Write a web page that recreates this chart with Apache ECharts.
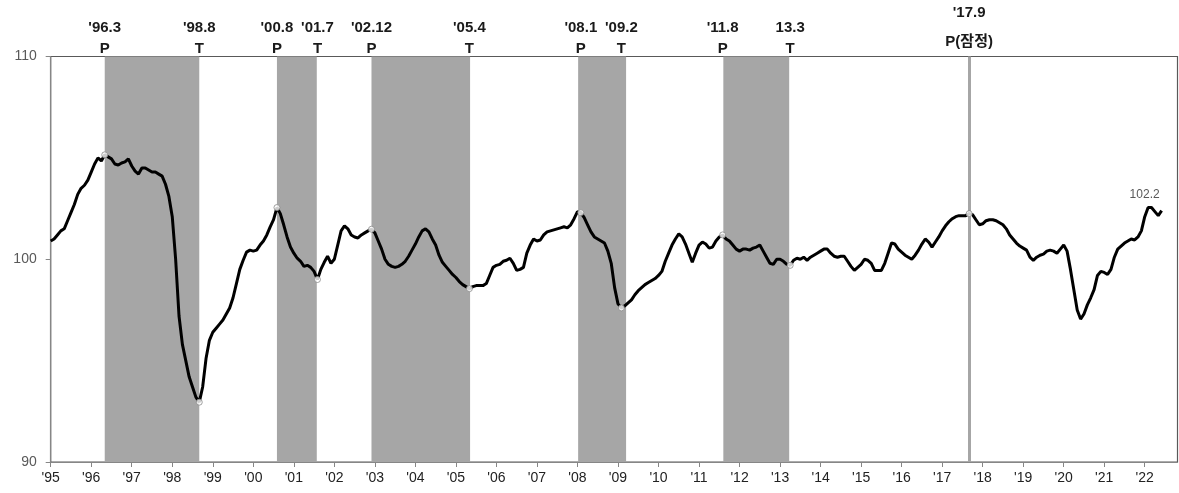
<!DOCTYPE html>
<html>
<head>
<meta charset="utf-8">
<script src="https://cdn.jsdelivr.net/npm/echarts@6/dist/echarts.min.js"></script>
<style>
html,body{margin:0;padding:0;background:#fff;}
#chart{width:1179px;height:493px;}
</style>
</head>
<body>
<div id="chart"></div>
<script>
// Monthly index, Jan 1995 (month 0) to Jun 2022
const values = [
  // 1995
  100.9, 101.0, 101.2, 101.4, 101.5, 101.9, 102.3, 102.7, 103.2, 103.5, 103.65, 103.9,
  // 1996
  104.3, 104.7, 105.0, 104.85, 105.15, 105.05, 104.95, 104.7, 104.65, 104.75, 104.8, 104.95,
  // 1997
  104.6, 104.35, 104.2, 104.5, 104.5, 104.4, 104.3, 104.3, 104.2, 104.1, 103.7, 103.1,
  // 1998
  102.1, 100.0, 97.2, 95.8, 95.0, 94.2, 93.7, 93.2, 92.95, 93.7, 95.1, 96.0,
  // 1999
  96.4, 96.6, 96.8, 97.0, 97.3, 97.6, 98.1, 98.8, 99.5, 99.95, 100.35, 100.45,
  // 2000
  100.4, 100.45, 100.7, 100.9, 101.2, 101.6, 101.95, 102.55, 102.25, 101.7, 101.1, 100.6,
  // 2001
  100.3, 100.05, 99.9, 99.65, 99.7, 99.6, 99.4, 99.0, 99.5, 99.85, 100.15, 99.8,
  // 2002
  100.0, 100.7, 101.4, 101.65, 101.5, 101.2, 101.1, 101.05, 101.2, 101.3, 101.4, 101.48,
  // 2003
  101.3, 100.9, 100.5, 100.0, 99.75, 99.65, 99.6, 99.65, 99.75, 99.9, 100.15, 100.45,
  // 2004
  100.75, 101.1, 101.4, 101.5, 101.35, 101.0, 100.7, 100.2, 99.85, 99.65, 99.45, 99.25,
  // 2005
  99.1, 98.9, 98.75, 98.65, 98.55, 98.65, 98.7, 98.7, 98.7, 98.8, 99.2, 99.6,
  // 2006
  99.7, 99.75, 99.9, 99.95, 100.05, 99.8, 99.45, 99.5, 99.6, 100.3, 100.7, 101.0,
  // 2007
  100.9, 100.95, 101.2, 101.35, 101.4, 101.45, 101.5, 101.55, 101.6, 101.55, 101.7, 102.0,
  // 2008
  102.35, 102.3, 102.05, 101.7, 101.35, 101.1, 101.0, 100.9, 100.8, 100.4, 99.8, 98.6,
  // 2009
  97.8, 97.6, 97.7, 97.85, 98.0, 98.25, 98.45, 98.6, 98.75, 98.85, 98.95, 99.05,
  // 2010
  99.2, 99.4, 99.9, 100.3, 100.7, 101.0, 101.25, 101.1, 100.75, 100.3, 99.85, 100.3,
  // 2011
  100.7, 100.85, 100.75, 100.55, 100.6, 100.9, 101.1, 101.2, 101.0, 100.9, 100.7, 100.5,
  // 2012
  100.4, 100.5, 100.5, 100.45, 100.55, 100.6, 100.7, 100.4, 100.1, 99.8, 99.75, 100.0,
  // 2013
  100.0, 99.9, 99.75, 99.7, 99.95, 100.05, 100.0, 100.1, 99.95, 100.1, 100.2, 100.3,
  // 2014
  100.4, 100.5, 100.5, 100.3, 100.15, 100.1, 100.15, 100.15, 99.9, 99.65, 99.45, 99.6,
  // 2015
  99.75, 100.0, 99.95, 99.8, 99.45, 99.45, 99.45, 99.8, 100.3, 100.8, 100.75, 100.5,
  // 2016
  100.35, 100.2, 100.1, 100.0, 100.2, 100.45, 100.75, 101.0, 100.85, 100.6, 100.85, 101.1,
  // 2017
  101.4, 101.65, 101.85, 102.0, 102.1, 102.15, 102.15, 102.15, 102.25, 102.2, 101.95, 101.7,
  // 2018
  101.75, 101.9, 101.95, 101.95, 101.9, 101.8, 101.7, 101.5, 101.2, 101.0, 100.8, 100.65,
  // 2019
  100.55, 100.45, 100.1, 99.95, 100.1, 100.2, 100.25, 100.4, 100.45, 100.4, 100.3, 100.5,
  // 2020
  100.7, 100.4, 99.5, 98.5, 97.5, 97.05, 97.3, 97.75, 98.1, 98.5, 99.2, 99.4,
  // 2021
  99.35, 99.25, 99.5, 100.1, 100.5, 100.65, 100.8, 100.9, 101.0, 100.95, 101.1, 101.4,
  // 2022
  102.1, 102.55, 102.55, 102.35, 102.15, 102.4
];

const lastLabel = '102.2';

const tickLabels = ["'95","'96","'97","'98","'99","'00","'01","'02","'03","'04","'05","'06","'07","'08",
  "'09","'10","'11","'12","'13","'14","'15","'16","'17","'18","'19","'20","'21","'22"];

// shaded contraction phases (in months from Jan 1995)
const shadeStart = [16, 67, 95, 156.2, 199.2];
const shadeEnd   = [44, 78.8, 124.2, 170.4, 218.7];

// turning points
const tpMonths = [16, 44, 67, 79, 95, 124, 157, 169, 199, 219, 272];
const tpDates  = ["'96.3", "'98.8", "'00.8", "'01.7", "'02.12", "'05.4", "'08.1", "'09.2", "'11.8", "13.3", "'17.9"];
const tpTypes  = ["P", "T", "P", "T", "P", "T", "P", "T", "P", "T", "P(잠정)"];

const yTicks = [90, 100, 110];

const FONT = "'Liberation Sans', 'Noto Sans CJK KR', sans-serif";

const tickMonths = tickLabels.map((_, i) => i * 12);
const lastIdx = values.length - 1;

const chart = echarts.init(document.getElementById('chart'), null, { renderer: 'canvas' });
chart.setOption({
  animation: false,
  backgroundColor: '#ffffff',
  grid: { left: 50.7, right: 1.5, top: 56.5, bottom: 31, show: true, borderColor: '#595959', borderWidth: 1.2 },
  xAxis: {
    type: 'value', min: 0, max: 333.7,
    splitLine: { show: false },
    axisLine: { show: true, onZero: false, lineStyle: { color: '#868686', width: 1.2 } },
    axisTick: { show: true, customValues: tickMonths, length: 5, lineStyle: { color: '#868686' } },
    axisLabel: { customValues: tickMonths, margin: 9, color: '#222', fontSize: 14, fontFamily: FONT,
      formatter: v => tickLabels[Math.round(v / 12)] }
  },
  yAxis: {
    type: 'value', min: yTicks[0], max: yTicks[yTicks.length - 1], interval: 10,
    splitLine: { show: false },
    axisLine: { show: true, lineStyle: { color: '#868686', width: 1.2 } },
    axisTick: { show: true, length: 5, lineStyle: { color: '#868686' } },
    axisLabel: { margin: 14, color: '#595959', fontSize: 14, fontFamily: FONT }
  },
  series: [
    {
      type: 'scatter', data: [], z: 1, silent: true,
      markArea: {
        silent: true,
        itemStyle: { color: '#a6a6a6' },
        data: shadeStart.map((s, i) => [{ xAxis: s }, { xAxis: shadeEnd[i] }])
      }
    },
    {
      type: 'line', data: values.map((v, i) => [i, v]), z: 5, showSymbol: false, smooth: false,
      lineStyle: { color: '#000', width: 3 }, silent: true,
      markPoint: {
        silent: true, symbol: 'circle', symbolSize: 1,
        itemStyle: { color: 'rgba(0,0,0,0)' },
        data: [{ coord: [lastIdx, values[lastIdx]] }],
        label: { show: true, formatter: lastLabel, position: 'top', distance: 0, offset: [-17, -9],
          color: '#595959', fontSize: 12, fontFamily: FONT }
      }
    },
    {
      type: 'scatter', z: 6, silent: true,
      data: tpMonths.map(m => [m, values[m]]),
      symbol: 'circle', symbolSize: 6,
      itemStyle: { color: '#fff', borderColor: '#8a8a8a', borderWidth: 1 },
      markLine: {
        silent: true, symbol: ['none', 'none'],
        data: tpMonths.map((m, i) => {
          const last = i === tpMonths.length - 1;
          return {
            xAxis: m,
            lineStyle: last ? { color: '#a6a6a6', width: 3, type: 'solid' } : { color: 'rgba(255,255,255,0)', width: 0.01 },
            label: {
              show: true, position: 'end', distance: last ? 0 : -3,
              formatter: tpDates[i] + '\n' + tpTypes[i],
              color: '#1a1a1a', fontWeight: 'bold', fontSize: 15, fontFamily: FONT,
              lineHeight: last ? 29 : 21
            }
          };
        })
      }
    }
  ]
});
</script>
</body>
</html>
